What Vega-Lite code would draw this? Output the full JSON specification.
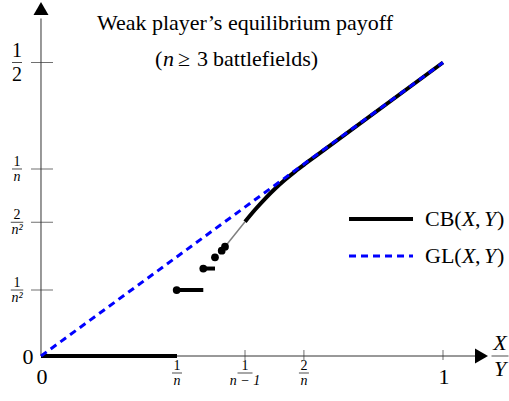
{
  "$schema": "https://vega.github.io/schema/vega-lite/v6.json",
  "width": 509,
  "height": 401,
  "autosize": {"type": "none"},
  "padding": 0,
  "background": "white",
  "config": {
    "view": {"stroke": null},
    "font": "Liberation Serif",
    "text": {"font": "Liberation Serif", "color": "#000", "baseline": "alphabetic"}
  },
  "datasets": {
    "axes": [{"x": 0, "y": 0, "x2": 0, "y2": 0.575}, {"x": 0, "y": 0, "x2": 1.08, "y2": 0}],
    "arrows": [{"x": 0, "y": 0.592, "dir": "up"}, {"x": 1.0958, "y": 0, "dir": "right"}],
    "yticks": [{"x": 0, "y": 0.5}, {"x": 0, "y": 0.3186}, {"x": 0, "y": 0.2278}, {"x": 0, "y": 0.1124}],
    "xticks": [{"x": 0.5075, "y": 0}, {"x": 0.654, "y": 0}, {"x": 1, "y": 0}],
    "steps": [
      {"x": 0, "x2": 0.3383, "y": 0},
      {"x": 0.3375, "x2": 0.4037, "y": 0.1124},
      {"x": 0.4037, "x2": 0.4328, "y": 0.149}
    ],
    "curve": [
      {"x": 0.5075, "y": 0.2288}, {"x": 0.5323, "y": 0.2491},
      {"x": 0.5572, "y": 0.2678}, {"x": 0.5821, "y": 0.2849},
      {"x": 0.607, "y": 0.3002}, {"x": 0.6318, "y": 0.3142},
      {"x": 0.6567, "y": 0.3271}, {"x": 0.6816, "y": 0.3395},
      {"x": 1, "y": 0.5}
    ],
    "gray": [{"x": 0.4577, "y": 0.1862}, {"x": 0.5075, "y": 0.2288}],
    "dots": [{"x": 0.3375, "y": 0.1124}, {"x": 0.4037, "y": 0.149}, {"x": 0.4328, "y": 0.1681}, {"x": 0.4495, "y": 0.1794}, {"x": 0.4577, "y": 0.1862}],
    "gl": [{"x": 0, "y": 0}, {"x": 1, "y": 0.5}],
    "yfrac": [
      {"x": 0, "y": 0.5, "num": "1", "den": "2"},
      {"x": 0, "y": 0.3186, "num": "1", "den": "n"},
      {"x": 0, "y": 0.2278, "num": "2", "den": "n²"},
      {"x": 0, "y": 0.1124, "num": "1", "den": "n²"}
    ],
    "xfrac": [
      {"x": 0.3383, "y": 0, "num": "1", "den": "n"},
      {"x": 0.5075, "y": 0, "num": "1", "den": "n − 1"},
      {"x": 0.654, "y": 0, "num": "2", "den": "n"}
    ],
    "big": [
      {"x": 0, "y": 0, "t": "0", "k": "left"},
      {"x": 0, "y": 0, "t": "0", "k": "below"},
      {"x": 1, "y": 0, "t": "1", "k": "below"}
    ],
    "xy": [{"x": 1.1418, "y": 0, "num": "X", "den": "Y"}],
    "title": [{"x": 0.5075, "y": 0.5554, "t": "Weak player’s equilibrium payoff"}],
    "sub": [{"x": 0.2836, "y": 0.494}],
    "legend": [
      {"name": "CB", "x": 0.7662, "x2": 0.9254, "y": 0.2334, "tx": 0.9552, "lab": "CB("},
      {"name": "GL", "x": 0.7662, "x2": 0.9254, "y": 0.1704, "tx": 0.9552, "lab": "GL("}
    ]
  },
  "encoding": {
    "x": {"field": "x", "type": "quantitative", "scale": {"domain": [-0.10199, 1.16418], "nice": false, "zero": false}, "axis": null},
    "y": {"field": "y", "type": "quantitative", "scale": {"domain": [-0.07666, 0.60647], "nice": false, "zero": false}, "axis": null}
  },
  "layer": [
    {"data": {"name": "axes"}, "mark": {"type": "rule", "color": "#333", "strokeWidth": 1},
     "encoding": {"x2": {"field": "x2"}, "y2": {"field": "y2"}}},
    {"data": {"name": "arrows"}, "mark": {"type": "point", "filled": true, "color": "#000", "opacity": 1, "size": 225, "strokeWidth": 0},
     "encoding": {"shape": {"field": "dir", "type": "nominal", "scale": {"domain": ["up", "right"], "range": ["triangle-up", "triangle-right"]}, "legend": null}}},
    {"data": {"name": "yticks"}, "mark": {"type": "tick", "orient": "horizontal", "size": 22, "thickness": 1, "color": "#333", "xOffset": 1}},
    {"data": {"name": "xticks"}, "mark": {"type": "tick", "orient": "vertical", "size": 10, "thickness": 1, "color": "#333", "yOffset": -1}},
    {"data": {"name": "steps"}, "mark": {"type": "rule", "color": "#000", "strokeWidth": 4, "strokeCap": "butt"},
     "encoding": {"x2": {"field": "x2"}}},
    {"data": {"name": "curve"}, "mark": {"type": "line", "color": "#000", "strokeWidth": 4, "strokeCap": "butt", "strokeJoin": "round", "interpolate": "monotone"}, "encoding": {}},
    {"data": {"name": "gray"}, "mark": {"type": "line", "color": "#7f7f7f", "strokeWidth": 1.5}, "encoding": {}},
    {"data": {"name": "dots"}, "mark": {"type": "point", "filled": true, "shape": "circle", "color": "#000", "opacity": 1, "size": 60}},
    {"data": {"name": "gl"}, "mark": {"type": "line", "color": "#0000ff", "strokeWidth": 3, "strokeDash": [7, 5], "strokeCap": "butt"}, "encoding": {}},

    {"data": {"name": "yfrac"}, "transform": [{"filter": "datum.den === '2'"}],
     "mark": {"type": "tick", "orient": "horizontal", "size": 10, "thickness": 1, "color": "#000", "xOffset": -24}},
    {"data": {"name": "yfrac"}, "transform": [{"filter": "datum.den === '2'"}],
     "mark": {"type": "text", "font": "Liberation Serif", "fontSize": 20, "dx": -24, "dy": -5}, "encoding": {"text": {"field": "num"}}},
    {"data": {"name": "yfrac"}, "transform": [{"filter": "datum.den === '2'"}],
     "mark": {"type": "text", "font": "Liberation Serif", "fontSize": 20, "dx": -24, "dy": 19}, "encoding": {"text": {"field": "den"}}},
    {"data": {"name": "yfrac"}, "transform": [{"filter": "datum.den !== '2'"}],
     "mark": {"type": "tick", "orient": "horizontal", "thickness": 1, "color": "#000", "xOffset": -24},
     "encoding": {"size": {"field": "den", "type": "nominal", "scale": {"domain": ["n", "n²", "n − 1"], "range": [10, 15, 30]}, "legend": null}}},
    {"data": {"name": "yfrac"}, "transform": [{"filter": "datum.den !== '2'"}],
     "mark": {"type": "text", "font": "Liberation Serif", "fontSize": 14, "dx": -24, "dy": -3}, "encoding": {"text": {"field": "num"}}},
    {"data": {"name": "yfrac"}, "transform": [{"filter": "datum.den !== '2'"}],
     "mark": {"type": "text", "font": "Liberation Serif", "fontSize": 14, "fontStyle": "italic", "dx": -24, "dy": 12}, "encoding": {"text": {"field": "den"}}},

    {"data": {"name": "xfrac"},
     "mark": {"type": "tick", "orient": "horizontal", "thickness": 1, "color": "#000", "yOffset": 17},
     "encoding": {"size": {"field": "den", "type": "nominal", "scale": {"domain": ["n", "n²", "n − 1"], "range": [10, 15, 30]}, "legend": null}}},
    {"data": {"name": "xfrac"}, "mark": {"type": "text", "font": "Liberation Serif", "fontSize": 14, "dy": 14}, "encoding": {"text": {"field": "num"}}},
    {"data": {"name": "xfrac"}, "mark": {"type": "text", "font": "Liberation Serif", "fontSize": 14, "fontStyle": "italic", "dy": 29}, "encoding": {"text": {"field": "den"}}},

    {"data": {"name": "big"}, "transform": [{"filter": "datum.k === 'left'"}],
     "mark": {"type": "text", "font": "Liberation Serif", "fontSize": 22, "dx": -13, "dy": 8}, "encoding": {"text": {"field": "t"}}},
    {"data": {"name": "big"}, "transform": [{"filter": "datum.k === 'below'"}],
     "mark": {"type": "text", "font": "Liberation Serif", "fontSize": 22, "dx": 1, "dy": 28}, "encoding": {"text": {"field": "t"}}},

    {"data": {"name": "xy"}, "mark": {"type": "tick", "orient": "horizontal", "size": 17, "thickness": 1, "color": "#000"}},
    {"data": {"name": "xy"}, "mark": {"type": "text", "font": "Liberation Serif", "fontSize": 22, "fontStyle": "italic", "dy": -6}, "encoding": {"text": {"field": "num"}}},
    {"data": {"name": "xy"}, "mark": {"type": "text", "font": "Liberation Serif", "fontSize": 22, "fontStyle": "italic", "dy": 20}, "encoding": {"text": {"field": "den"}}},

    {"data": {"name": "title"}, "mark": {"type": "text", "font": "Liberation Serif", "fontSize": 22, "align": "center"}, "encoding": {"text": {"field": "t"}}},
    {"data": {"name": "sub"}, "mark": {"type": "text", "font": "Liberation Serif", "fontSize": 22, "align": "left", "text": "("}},
    {"data": {"name": "sub"}, "mark": {"type": "text", "font": "Liberation Serif", "fontSize": 22, "align": "left", "fontStyle": "italic", "dx": 8, "text": "n"}},
    {"data": {"name": "sub"}, "mark": {"type": "text", "font": "Liberation Serif", "fontSize": 22, "align": "left", "dx": 23, "text": "≥"}},
    {"data": {"name": "sub"}, "mark": {"type": "text", "font": "Liberation Serif", "fontSize": 22, "align": "left", "dx": 42, "text": "3"}},
    {"data": {"name": "sub"}, "mark": {"type": "text", "font": "Liberation Serif", "fontSize": 22, "align": "left", "dx": 58, "text": "battlefields)"}},

    {"data": {"name": "legend"}, "transform": [{"filter": "datum.name === 'CB'"}],
     "mark": {"type": "rule", "color": "#000", "strokeWidth": 4}, "encoding": {"x2": {"field": "x2"}}},
    {"data": {"name": "legend"}, "transform": [{"filter": "datum.name === 'GL'"}],
     "mark": {"type": "rule", "color": "#0000ff", "strokeWidth": 3, "strokeDash": [7, 5]}, "encoding": {"x2": {"field": "x2"}}},
    {"data": {"name": "legend"}, "mark": {"type": "text", "font": "Liberation Serif", "fontSize": 22, "align": "left", "dy": 7},
     "encoding": {"x": {"field": "tx", "type": "quantitative"}, "text": {"field": "lab"}}},
    {"data": {"name": "legend"}, "mark": {"type": "text", "font": "Liberation Serif", "fontSize": 22, "align": "left", "fontStyle": "italic", "dy": 7, "dx": 37, "text": "X"},
     "encoding": {"x": {"field": "tx", "type": "quantitative"}}},
    {"data": {"name": "legend"}, "mark": {"type": "text", "font": "Liberation Serif", "fontSize": 22, "align": "left", "dy": 7, "dx": 50, "text": ","},
     "encoding": {"x": {"field": "tx", "type": "quantitative"}}},
    {"data": {"name": "legend"}, "mark": {"type": "text", "font": "Liberation Serif", "fontSize": 22, "align": "left", "fontStyle": "italic", "dy": 7, "dx": 59, "text": "Y"},
     "encoding": {"x": {"field": "tx", "type": "quantitative"}}},
    {"data": {"name": "legend"}, "mark": {"type": "text", "font": "Liberation Serif", "fontSize": 22, "align": "left", "dy": 7, "dx": 72, "text": ")"},
     "encoding": {"x": {"field": "tx", "type": "quantitative"}}}
  ]
}
